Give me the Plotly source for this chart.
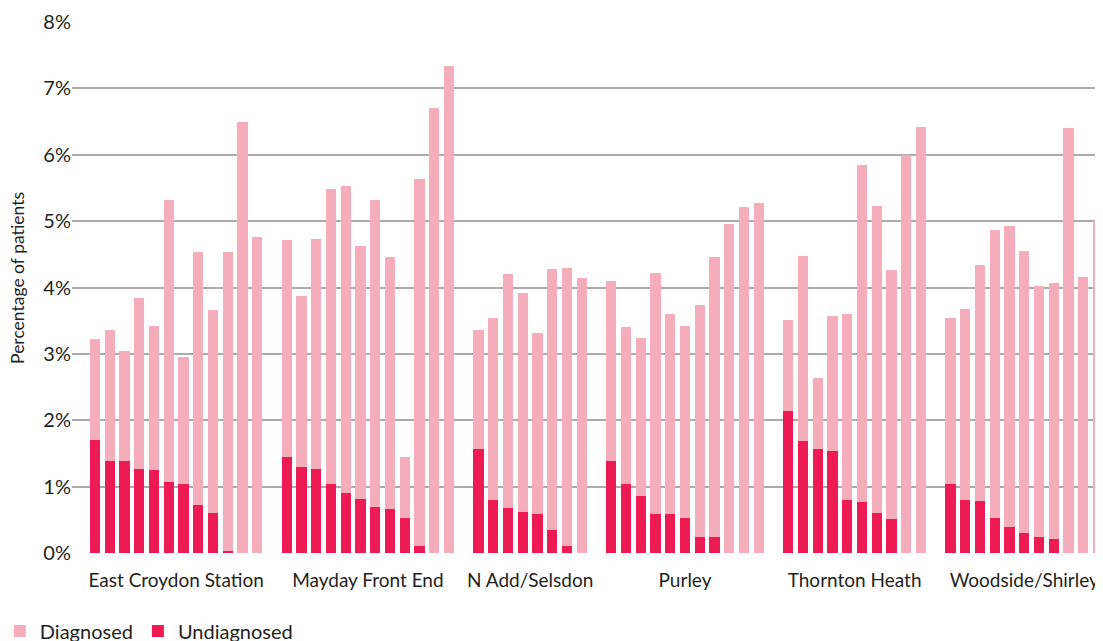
import plotly.graph_objects as go

# --- data (percent of patients) ---
localities = ["East Croydon Station", "Mayday Front End", "N Add/Selsdon",
              "Purley", "Thornton Heath", "Woodside/Shirley"]

undiag_ec = [1.70, 1.38, 1.38, 1.26, 1.25, 1.07, 1.04, 0.72, 0.60, 0.03, 0.00, 0.00]
diag_ec = [1.52, 1.98, 1.66, 2.58, 2.17, 4.25, 1.92, 3.81, 3.06, 4.50, 6.50, 4.76]

undiag_mf = [1.45, 1.29, 1.27, 1.04, 0.90, 0.81, 0.69, 0.67, 0.52, 0.10, 0.00, 0.00]
diag_mf = [3.27, 2.58, 3.46, 4.45, 4.63, 3.81, 4.63, 3.79, 0.92, 5.54, 6.70, 7.34]

undiag_na = [1.57, 0.80, 0.68, 0.62, 0.59, 0.34, 0.11, 0.00]
diag_na = [1.79, 2.74, 3.53, 3.30, 2.73, 3.94, 4.18, 4.14]

undiag_pu = [1.38, 1.04, 0.86, 0.59, 0.59, 0.53, 0.24, 0.24, 0.00, 0.00, 0.00]
diag_pu = [2.72, 2.37, 2.38, 3.63, 3.01, 2.89, 3.50, 4.22, 4.95, 5.21, 5.27]

undiag_th = [2.14, 1.69, 1.56, 1.53, 0.80, 0.77, 0.60, 0.51, 0.00, 0.00]
diag_th = [1.37, 2.79, 1.08, 2.04, 2.80, 5.08, 4.63, 3.75, 6.00, 6.42]

undiag_ws = [1.04, 0.80, 0.78, 0.53, 0.39, 0.30, 0.24, 0.21, 0.00, 0.00, 0.00]
diag_ws = [2.50, 2.87, 3.56, 4.34, 4.54, 4.25, 3.79, 3.86, 6.41, 4.16, 5.00]

groups = [
    (undiag_ec, diag_ec), (undiag_mf, diag_mf), (undiag_na, diag_na),
    (undiag_pu, diag_pu), (undiag_th, diag_th), (undiag_ws, diag_ws),
]

PINK = "#F5ACBB"
RED = "#EE1A53"
FONT = "Lato, 'Liberation Sans', Arial, sans-serif"
TEXT = "#231F20"

# --- slot positions: one empty slot between localities ---
xs, undiag, diag, centres = [], [], [], []
pos = 0
for u, d in groups:
    start = pos
    for a, b in zip(u, d):
        xs.append(pos)
        undiag.append(a)
        diag.append(b)
        pos += 1
    centres.append((start + pos - 1) / 2)
    pos += 1

fig = go.Figure()
# red sits at the bottom of each stack, pink on top
fig.add_trace(go.Bar(x=xs, y=undiag, name="Undiagnosed", marker=dict(color=RED, line_width=0)))
fig.add_trace(go.Bar(x=xs, y=diag, name="Diagnosed", marker=dict(color=PINK, line_width=0)))

fig.add_annotation(
    text="Percentage of patients",
    xref="paper", yref="paper",
    x=-0.0524, y=0.518,
    xanchor="center", yanchor="middle",
    textangle=-90,
    showarrow=False,
    font=dict(size=17.5, color=TEXT),
)

# page body has an 8px margin, so margins are shifted by 8px
fig.update_layout(
    barmode="stack",
    bargap=0.29,
    width=1103,
    height=641,
    margin=dict(l=64, r=8, t=14, b=96, autoexpand=False),
    plot_bgcolor="white",
    paper_bgcolor="white",
    font=dict(family=FONT, size=19, color=TEXT),
    xaxis=dict(
        range=[-1.56, 68.34],
        tickvals=centres,
        ticktext=localities,
        showgrid=False,
        zeroline=False,
        showline=False,
        ticks="outside",
        ticklen=10,
        tickcolor="rgba(0,0,0,0)",
        automargin=False,
    ),
    yaxis=dict(
        range=[0, 8],
        dtick=1,
        ticksuffix="%",
        showgrid=True,
        gridcolor="#ABABAB",
        gridwidth=1.5,
        zeroline=False,
        showline=False,
        ticks="",
        tickfont=dict(size=20),
        automargin=False,
    ),
    legend=dict(
        orientation="h",
        x=-0.07, xanchor="left",
        y=-0.11, yanchor="top",
        traceorder="reversed",
        font=dict(size=20),
        itemwidth=30,
    ),
    showlegend=True,
)

fig.write_html("out.html")
